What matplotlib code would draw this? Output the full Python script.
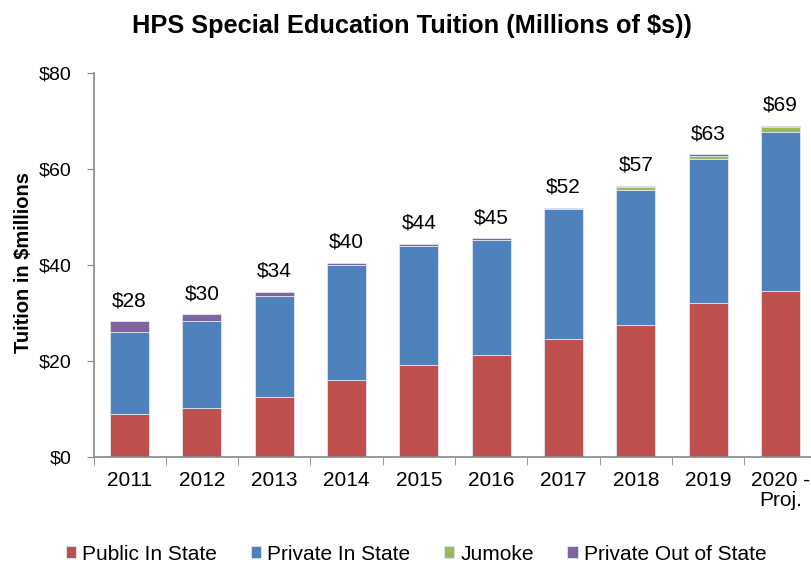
import numpy as np
import matplotlib.pyplot as plt
from matplotlib.ticker import FixedLocator, FuncFormatter

plt.rcParams['font.family'] = ['Liberation Sans', 'DejaVu Sans']

years = ["2011", "2012", "2013", "2014", "2015", "2016", "2017", "2018", "2019", "2020 -\nProj."]
public_in_state = [9.0, 10.2, 12.6, 16.0, 19.2, 21.2, 24.6, 27.5, 32.0, 34.6]
private_in_state = [17.0, 18.1, 21.0, 24.0, 24.8, 24.0, 27.0, 28.1, 30.1, 33.1]
jumoke = [0, 0, 0, 0, 0, 0, 0, 0.6, 0.7, 1.0]
private_out_state = [2.3, 1.4, 0.8, 0.4, 0.4, 0.4, 0.3, 0.3, 0.3, 0.3]
total_labels = ["$28", "$30", "$34", "$40", "$44", "$45", "$52", "$57", "$63", "$69"]

series = [("Public In State", public_in_state, "#C0504D"),
          ("Private In State", private_in_state, "#4F81BD"),
          ("Jumoke", jumoke, "#9BBB59"),
          ("Private Out of State", private_out_state, "#8064A2")]

fig = plt.figure(figsize=(8.11, 5.62), dpi=100)
ax = fig.add_axes([93.5 / 811, 105 / 562, 723 / 811, 384 / 562])

x = np.arange(len(years))
bottom = np.zeros(len(years))
for name, vals, color in series:
    ax.bar(x, vals, width=0.54, bottom=bottom, color=color, label=name,
           edgecolor="#dde6f0", linewidth=0.6)
    bottom += np.array(vals)

for xi, top, lab in zip(x, bottom, total_labels):
    ax.annotate(lab, (xi, top), xytext=(0, 8), textcoords="offset points",
                ha="center", va="bottom", fontsize=15)

ax.set_xlim(-0.5, len(years) - 0.5)
ax.set_ylim(0, 80)
ax.set_yticks([0, 20, 40, 60, 80])
ax.yaxis.set_major_formatter(FuncFormatter(lambda v, p: "$%d" % v))
ax.set_xticks(x)
ax.set_xticklabels(years, fontsize=15, linespacing=1.05)
ax.xaxis.set_minor_locator(FixedLocator(np.arange(len(years) + 1) - 0.5))
ax.tick_params(axis="x", which="major", length=0, pad=10)
ax.tick_params(axis="x", which="minor", length=6, color="#888888", direction="out")
ax.tick_params(axis="y", labelsize=14, length=5, color="#888888", direction="out", pad=11)

for s in ["top", "right"]:
    ax.spines[s].set_visible(False)
for s in ["left", "bottom"]:
    ax.spines[s].set_color("#888888")
    ax.spines[s].set_linewidth(1.2)

fig.text(24 / 811, 0.533, "Tuition in $millions", rotation=90, ha="center", va="center",
         fontsize=14.5, fontweight="bold")
fig.text(0.508, 0.954, "HPS Special Education Tuition (Millions of $s))",
         ha="center", va="center", fontsize=18.3, fontweight="bold")

fig.legend(loc="center", bbox_to_anchor=(0.513, 0.014), ncol=4, frameon=False,
           fontsize=15, handlelength=0.5, handleheight=0.5, handletextpad=0.3,
           columnspacing=1.6)

fig.savefig("out.png", dpi=100)
